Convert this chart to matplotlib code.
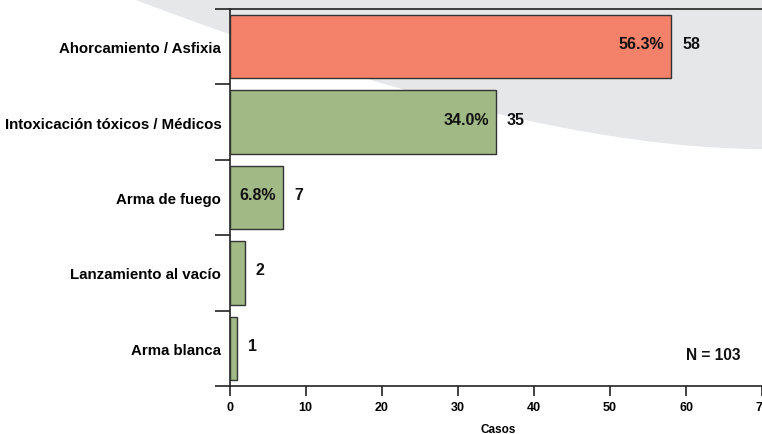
import matplotlib
matplotlib.use("Agg")
import matplotlib.pyplot as plt
from matplotlib.path import Path
from matplotlib.patches import PathPatch

categories = ["Ahorcamiento / Asfixia", "Intoxicación tóxicos / Médicos",
              "Arma de fuego", "Lanzamiento al vacío", "Arma blanca"]
casos = [58, 35, 7, 2, 1]
porcentajes = ["56.3%", "34.0%", "6.8%", "", ""]
colores = ["#f4826a", "#a1b985", "#a1b985", "#a1b985", "#a1b985"]
x_ticks = [0, 10, 20, 30, 40, 50, 60, 70]
n_text = "N = 103"
x_label = "Casos"

plt.rcParams['font.family'] = ['Liberation Sans', 'DejaVu Sans']
plt.rcParams['font.weight'] = 'bold'

W, H = 762, 435
fig = plt.figure(figsize=(W / 100, H / 100), dpi=100)

# background swoosh (figure pixel coords -> figure fraction)
def fp(x, y):
    return (x / W, 1 - y / H)

bg_ax = fig.add_axes([0, 0, 1, 1], zorder=-5)
bg_ax.set_axis_off()
bg_ax.set_xlim(0, 1)
bg_ax.set_ylim(0, 1)
verts = [fp(133, 0), fp(528, 150), fp(762, 150), fp(762, 0), fp(133, 0)]
codes = [Path.MOVETO, Path.CURVE3, Path.CURVE3, Path.LINETO, Path.CLOSEPOLY]
bg_ax.add_patch(PathPatch(Path(verts, codes), facecolor="#e6e7e9",
                          edgecolor="none"))

x0_px = 229.6
px_per_unit = 7.61
x_max = 70.6
left = x0_px / W
right = (x0_px + x_max * px_per_unit) / W
bottom = 1 - 387 / H
top = 1 - 10 / H
ax = fig.add_axes([left, bottom, right - left, top - bottom], zorder=1)
ax.patch.set_alpha(0)

ypos = list(range(len(categories)))
ax.barh(ypos, casos, height=0.84, color=colores, edgecolor="#333333",
        linewidth=1.0, zorder=3)

for y, v, p in zip(ypos, casos, porcentajes):
    if p:
        ax.text(v - 0.9, y - 0.04, p, ha="right", va="center", fontsize=11.5,
                fontweight="bold", color="#111111", zorder=4)
    ax.text(v + 1.45, y - 0.04, str(v), ha="left", va="center", fontsize=11.5,
            fontweight="bold", color="#111111", zorder=4)

ax.set_xlim(0, x_max)
ax.set_ylim(len(categories) - 0.5, -0.5)

ax.set_xticks(x_ticks)
ax.set_xticklabels([str(t) for t in x_ticks], fontsize=9, fontweight="bold")
ax.tick_params(axis="x", direction="out", length=7, width=1.2, color="#222222", pad=4)

bounds = [i - 0.5 for i in range(len(categories) + 1)]
ax.set_yticks(bounds)
ax.set_yticklabels([""] * len(bounds))
ax.tick_params(axis="y", which="major", direction="out", length=11, width=1.2, color="#222222")
ax.set_yticks(ypos, minor=True)
ax.set_yticklabels(categories, minor=True, fontsize=10.8, fontweight="bold")
ax.tick_params(axis="y", which="minor", length=0, pad=6)

for s in ["left", "top", "bottom"]:
    ax.spines[s].set_color("#222222")
    ax.spines[s].set_linewidth(1.2)
ax.spines["right"].set_visible(False)

ax.set_xlabel(x_label, fontsize=8.5, fontweight="bold", labelpad=7)
ax.text(67.2, 4.08, n_text, ha="right", va="center",
        fontsize=11.2, fontweight="bold", color="#111111")

fig.savefig("out.png", dpi=100)
